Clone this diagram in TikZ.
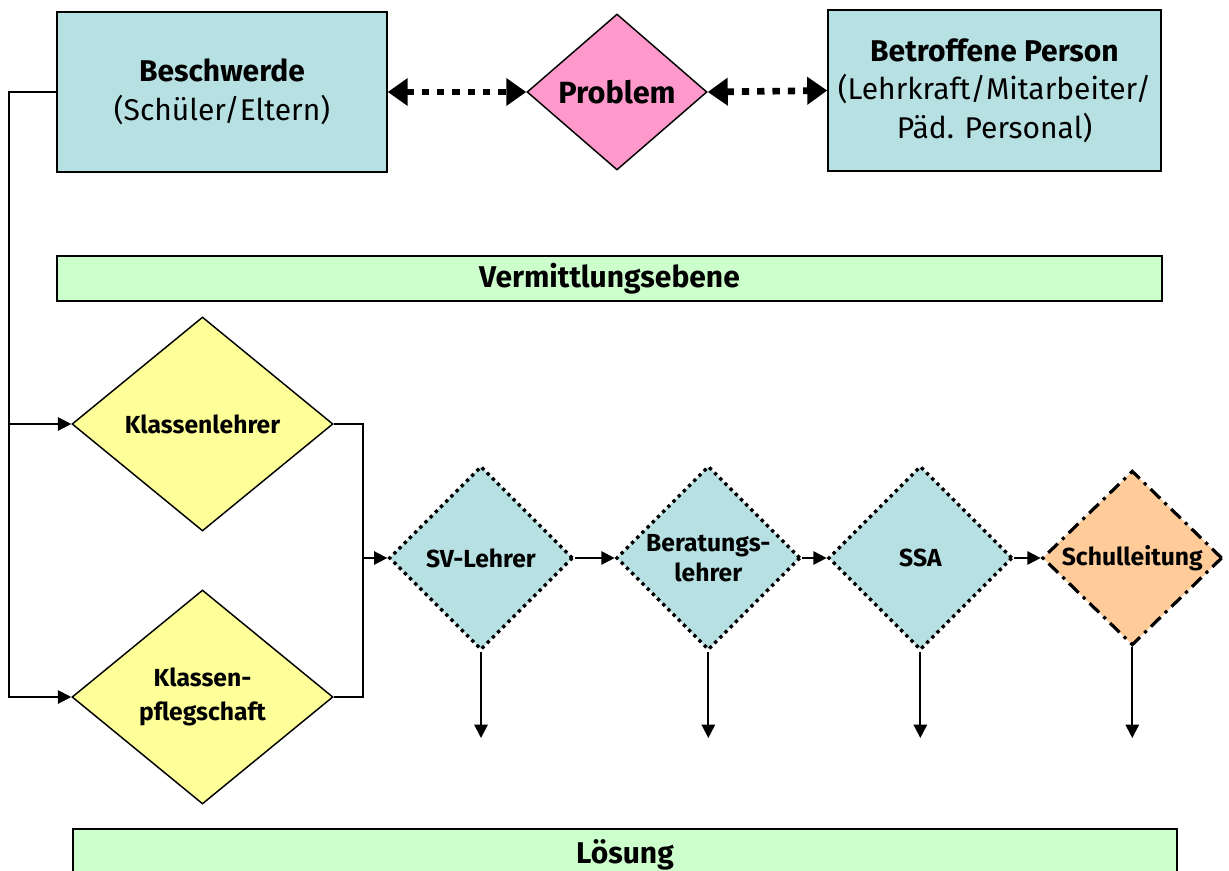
\documentclass[tikz,border=0pt]{standalone}
\usepackage{fontspec}
\setmainfont{Fira Sans}
\usetikzlibrary{arrows.meta,positioning,shapes.geometric,calc}
\definecolor{fbBlau}{HTML}{B7E0E3}
\definecolor{fbRosa}{HTML}{FF99CC}
\definecolor{fbGruen}{HTML}{CCFFCC}
\definecolor{fbGelb}{HTML}{FFFF99}
\definecolor{fbOrange}{HTML}{FFCC99}
\tikzset{
  kasten/.style={draw=black, line width=1.1pt, fill=#1, align=center, inner sep=0pt, font=\fontsize{22.5}{29}\selectfont},
  balken/.style={draw=black, line width=1.1pt, fill=fbGruen, align=center, inner sep=0pt, font=\fontsize{22.5}{26}\selectfont\bfseries},
  raute/.style={diamond, draw=black, line width=1.1pt, fill=#1, align=center, inner sep=0pt, font=\fontsize{18.5}{24}\selectfont\bfseries},
  punktrand/.style={line width=2.5pt, dash pattern=on 2.5pt off 3pt},
  strichrand/.style={line width=2.4pt, dash pattern=on 10pt off 4.5pt on 2.4pt off 4.5pt},
  pfeil/.style={-{Triangle[length=10pt,width=10pt]}, line width=1.4pt},
  dickpunkt/.style={{Triangle[length=15pt,width=20pt]}-{Triangle[length=15pt,width=20pt]}, line width=5pt, dash pattern=on 5.5pt off 6pt},
}
\begin{document}
\begin{tikzpicture}[x=0.75pt, y=-0.75pt]
\useasboundingbox (0,0) rectangle (1229,871);

% obere Ebene
\node[kasten=fbBlau, minimum width=247.5pt, minimum height=120pt] (beschwerde) at (222,92) {\textbf{Beschwerde}\\(Schüler/Eltern)};
\node[raute=fbRosa, minimum width=135pt, minimum height=117pt, font=\fontsize{23}{26}\selectfont\bfseries] (problem) at (617,92) {Problem};
\node[kasten=fbBlau, minimum width=249.75pt, minimum height=120.75pt] (betroffen) at (994.5,90.5) {\textbf{Betroffene Person}\\(Lehrkraft/Mitarbeiter/\\Päd. Personal)};
\draw[dickpunkt] (beschwerde.east) -- (problem.west);
\draw[dickpunkt] (problem.east) -- (betroffen.west);

\node[balken, minimum width=828.75pt, minimum height=33.75pt] (vermittlung) at (609.5,278.5) {Vermittlungsebene};

% Vermittlung
\node[raute=fbGelb, minimum width=195.75pt, minimum height=160.5pt] (kl) at (202.5,424) {Klassenlehrer};
\node[raute=fbGelb, minimum width=195.75pt, minimum height=160.5pt] (kp) at (202.5,697) {Klassen-\\[2pt]pflegschaft};

\node[raute=fbBlau, punktrand, minimum width=138pt, minimum height=138pt] (sv) at (481,558) {SV-Lehrer};
\node[raute=fbBlau, punktrand, minimum width=138pt, minimum height=138pt, right=30pt of sv] (bl) {Beratungs-\\[-1pt]lehrer};
\node[raute=fbBlau, punktrand, minimum width=138pt, minimum height=138pt, right=18.5pt of bl] (ssa) {SSA};
\node[raute=fbOrange, strichrand, minimum width=135pt, minimum height=131pt, right=20pt of ssa] (sl) {Schulleitung};

\coordinate (links) at ($(beschwerde.west)+(-47,0)$);
\draw[pfeil] (beschwerde.west) -- (links) |- (kp.west);
\draw[pfeil] (links |- kl.west) -- (kl.west);

\coordinate (rechts) at ($(kl.east)+(29,0)$);
\draw[line width=1.4pt] (kl.east) -- (rechts) |- (kp.east);
\draw[pfeil] (rechts |- sv.west) -- (sv.west);

\draw[pfeil] (sv.east) -- (bl.west);
\draw[pfeil] (bl.east) -- (ssa.west);
\draw[pfeil] (ssa.east) -- (sl.west);

\coordinate (ende) at (0,738);
\foreach \n in {sv,bl,ssa,sl}
  \draw[pfeil] (\n.south) -- (\n.south |- ende);

\node[balken, minimum width=828pt, minimum height=38.25pt] (loesung) at (625,854.5) {Lösung};
\end{tikzpicture}
\end{document}
